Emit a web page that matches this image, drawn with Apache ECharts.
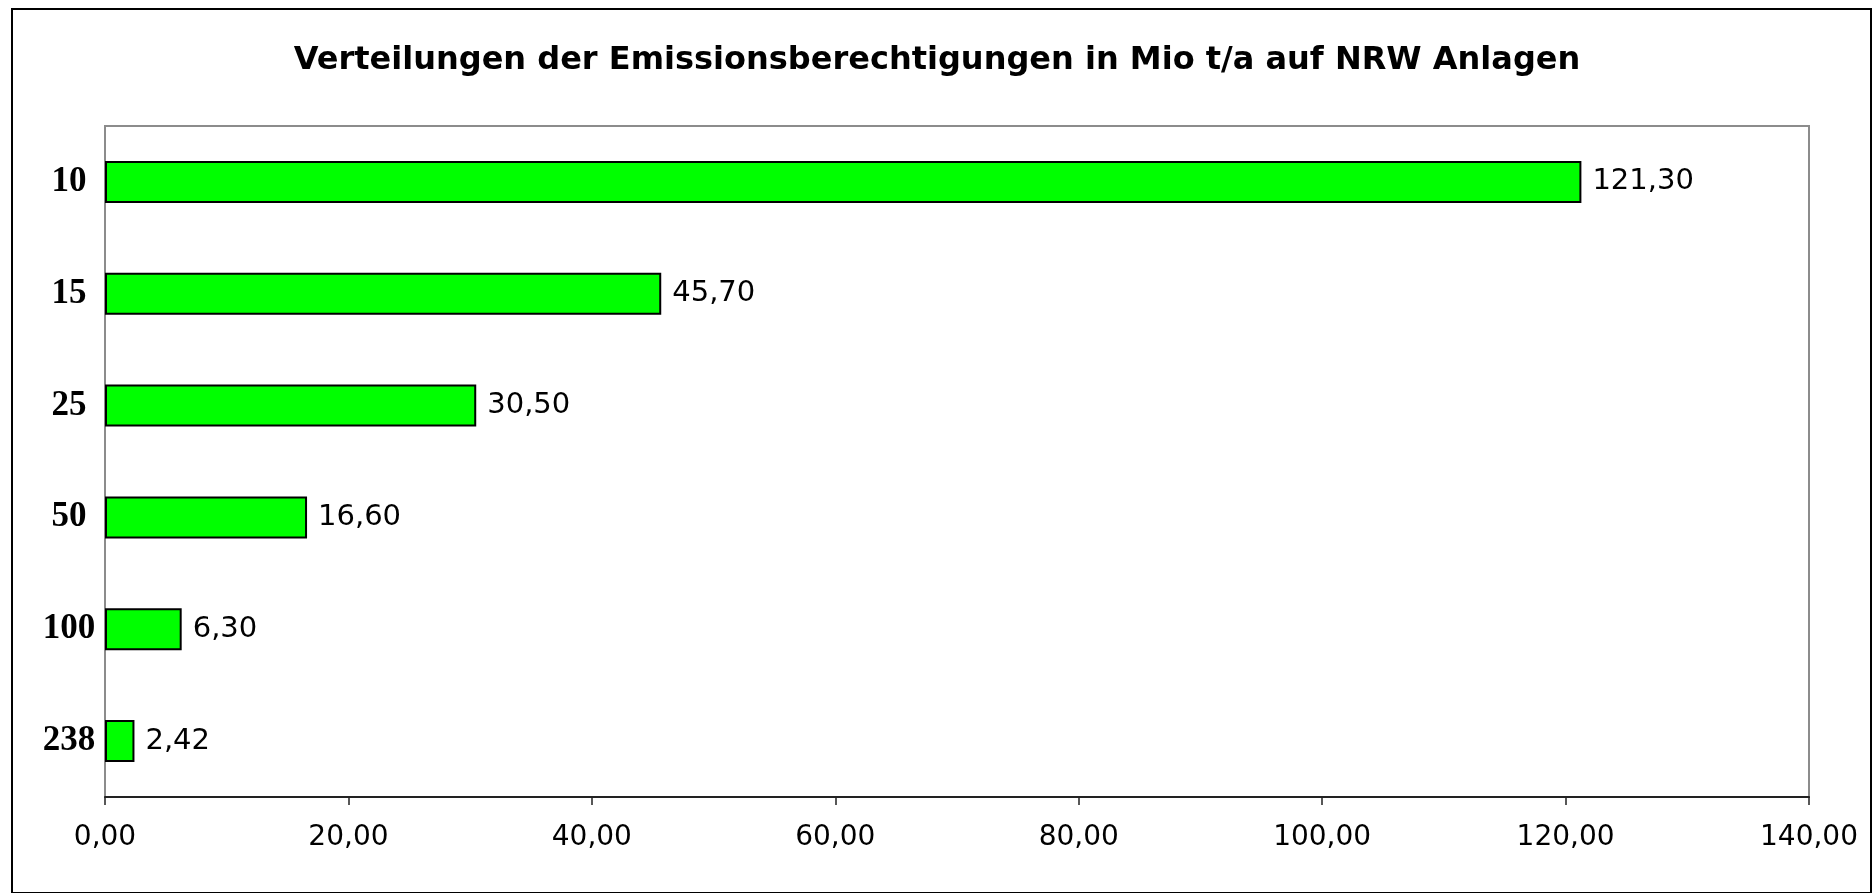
<!DOCTYPE html>
<html>
<head>
<meta charset="utf-8">
<title>Verteilungen der Emissionsberechtigungen</title>
<script src="https://cdn.jsdelivr.net/npm/echarts@6/dist/echarts.min.js"></script>
<style>
  html, body { margin: 0; padding: 0; background: #fff; }
  #main { width: 1874px; height: 893px; }
</style>
</head>
<body>
<div id="main"></div>
<script>
const titleText = 'Verteilungen der Emissionsberechtigungen in Mio t/a auf NRW Anlagen';
const categories = ['10', '15', '25', '50', '100', '238'];
const values = [121.3, 45.7, 30.5, 16.6, 6.3, 2.42];
const xTicks = [0, 20, 40, 60, 80, 100, 120, 140];

// German number format, two decimals
const fmt = v => Number(v).toFixed(2).replace('.', ',');

const chartDom = document.getElementById('main');
const myChart = echarts.init(chartDom);

const option = {
  backgroundColor: '#fff',
  animation: false,
  title: {
    text: titleText,
    left: 'center',
    top: 40,
    textStyle: {
      fontFamily: 'DejaVu Sans',
      fontWeight: 'bold',
      fontSize: 32,
      color: '#000'
    }
  },
  graphic: [
    {
      type: 'rect',
      shape: { x: 12, y: 9, width: 1859, height: 884 },
      style: { fill: 'none', stroke: '#000', lineWidth: 2 },
      silent: true
    }
  ],
  grid: {
    left: 105,
    top: 126,
    width: 1704,
    height: 671,
    show: true,
    borderColor: '#8c8c8c',
    borderWidth: 2,
    containLabel: false
  },
  xAxis: {
    type: 'value',
    min: xTicks[0],
    max: xTicks[xTicks.length - 1],
    interval: 20,
    axisLine: { show: true, lineStyle: { color: '#222', width: 2 } },
    axisTick: { show: true, length: 8, lineStyle: { color: '#222', width: 1.5 } },
    splitLine: { show: false },
    axisLabel: {
      formatter: fmt,
      margin: 27,
      fontFamily: 'DejaVu Sans',
      fontSize: 28,
      color: '#000'
    }
  },
  yAxis: {
    type: 'category',
    data: categories,
    inverse: true,
    axisLine: { show: true, lineStyle: { color: '#8c8c8c', width: 2 } },
    axisTick: { show: false },
    axisLabel: {
      margin: 36,
      align: 'center',
      fontFamily: 'Liberation Serif',
      fontWeight: 'bold',
      fontSize: 35,
      color: '#000'
    }
  },
  series: [
    {
      type: 'bar',
      data: values,
      barWidth: 42,
      itemStyle: {
        color: '#00ff00',
        borderColor: '#000',
        borderWidth: 2
      },
      label: {
        show: true,
        position: 'right',
        distance: 11,
        formatter: p => fmt(p.value),
        fontFamily: 'DejaVu Sans',
        fontSize: 29,
        color: '#000'
      }
    }
  ]
};

option && myChart.setOption(option);
</script>
</body>
</html>
